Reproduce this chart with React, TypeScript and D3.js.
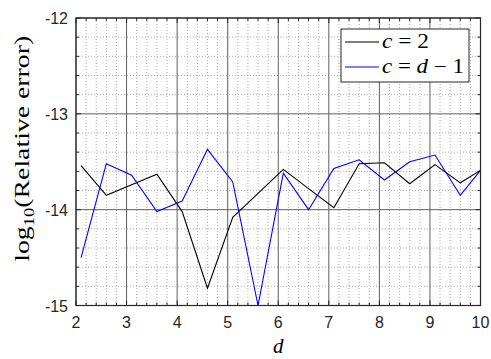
import React from 'react';
import * as d3 from 'd3';

const width = 491;
const height = 359;
const margin = { top: 18, right: 10, bottom: 54, left: 76 };

// sample positions along d
const dValues = [2.1, 2.6, 3.1, 3.6, 4.1, 4.6, 5.1, 5.6, 6.1, 6.6, 7.1, 7.6, 8.1, 8.6, 9.1, 9.6, 10];
// log10 relative error, c = 2
const errC2 = [-13.54, -13.85, -13.74, -13.63, -14.02, -14.82, -14.08, -13.83, -13.58, -13.78, -13.98, -13.52, -13.51, -13.73, -13.53, -13.72, -13.59];
// log10 relative error, c = d - 1
const errCd = [-14.5, -13.52, -13.64, -14.02, -13.91, -13.37, -13.71, -15.0, -13.62, -14.0, -13.57, -13.48, -13.69, -13.5, -13.43, -13.85, -13.59];

const xTicks = [2, 3, 4, 5, 6, 7, 8, 9, 10];
const yTicks = [-15, -14, -13, -12];

const x = d3.scaleLinear().domain([2, 10]).range([margin.left, width - margin.right - 0.5]);
const y = d3.scaleLinear().domain([-15, -12]).range([height - margin.bottom + 0.5, margin.top]);

const xMinor = d3.range(2, 10.001, 0.2).map(v => +v.toFixed(1));
const yMinor = d3.range(-15, -11.999, 0.2).map(v => +v.toFixed(1));

const line = d3.line<number>().x((d, i) => x(dValues[i])).y(d => y(d));

const sans = '"Liberation Sans", Arial, sans-serif';
const serif = '"Liberation Serif", "Times New Roman", serif';

export default function App() {
  const x0 = x.range()[0], x1 = x.range()[1];
  const y0 = y.range()[0], y1 = y.range()[1];
  return (
    <svg width={width} height={height} style={{ position: 'absolute', left: 0, top: 0, background: '#fff' }}>
      <defs>
        <clipPath id="plot">
          <rect x={x0} y={y1} width={x1 - x0} height={y0 - y1} />
        </clipPath>
      </defs>
      {/* minor grid */}
      <g stroke="#9a9a9a" strokeWidth={0.8} strokeDasharray="1,2">
        {xMinor.filter(v => !Number.isInteger(v)).map(v => (
          <line key={'xm' + v} x1={x(v)} x2={x(v)} y1={y1} y2={y0} />
        ))}
        {yMinor.filter(v => !Number.isInteger(v)).map(v => (
          <line key={'ym' + v} x1={x0} x2={x1} y1={y(v)} y2={y(v)} />
        ))}
      </g>
      {/* major grid */}
      <g stroke="#5e5e5e" strokeWidth={1}>
        {xTicks.map(v => (
          <line key={'xg' + v} x1={x(v)} x2={x(v)} y1={y1} y2={y0} />
        ))}
        {yTicks.map(v => (
          <line key={'yg' + v} x1={x0} x2={x1} y1={y(v)} y2={y(v)} />
        ))}
      </g>
      {/* ticks */}
      <g stroke="#262626" strokeWidth={1}>
        {xMinor.map(v => {
          const len = Number.isInteger(v) ? 5 : 3;
          return (
            <g key={'xt' + v}>
              <line x1={x(v)} x2={x(v)} y1={y0} y2={y0 - len} />
              <line x1={x(v)} x2={x(v)} y1={y1} y2={y1 + len} />
            </g>
          );
        })}
        {yMinor.map(v => {
          const len = Number.isInteger(v) ? 5 : 3;
          return (
            <g key={'yt' + v}>
              <line x1={x0} x2={x0 + len} y1={y(v)} y2={y(v)} />
              <line x1={x1} x2={x1 - len} y1={y(v)} y2={y(v)} />
            </g>
          );
        })}
      </g>
      {/* data */}
      <g clipPath="url(#plot)" fill="none" strokeWidth={1.1}>
        <path d={line(errC2) || ''} stroke="#000" />
        <path d={line(errCd) || ''} stroke="#0000ff" />
      </g>
      {/* frame */}
      <rect x={x0} y={y1} width={x1 - x0} height={y0 - y1} fill="none" stroke="#262626" strokeWidth={1.2} />
      {/* tick labels */}
      <g fontFamily={sans} fontSize={16} fill="#262626">
        {xTicks.map(v => (
          <text key={'xl' + v} x={x(v)} y={y0 + 22} textAnchor="middle">{v}</text>
        ))}
        {yTicks.map(v => (
          <text key={'yl' + v} x={x0 - 8} y={y(v) + 6} textAnchor="end">{v}</text>
        ))}
      </g>
      {/* axis labels */}
      <text x={(x0 + x1) / 2} y={353} fontFamily={serif} fontSize={21} fontStyle="italic" textAnchor="middle">d</text>
      <text transform={`translate(29, ${(y0 + y1) / 2 - 13}) rotate(-90)`} fontFamily={serif} fontSize={21}
        textAnchor="middle" textLength={226} lengthAdjust="spacingAndGlyphs">
        log<tspan fontSize={14} dy={5}>10</tspan><tspan dy={-5}>(Relative error)</tspan>
      </text>
      {/* legend */}
      <g>
        <rect x={341} y={29} width={128} height={53} fill="#fff" stroke="#262626" strokeWidth={1} />
        <line x1={345} x2={379} y1={42} y2={42} stroke="#000" strokeWidth={1.1} />
        <line x1={345} x2={379} y1={67} y2={67} stroke="#0000ff" strokeWidth={1.1} />
        <text x={382} y={48} fontFamily={serif} fontSize={20} textLength={47} lengthAdjust="spacingAndGlyphs">
          <tspan fontStyle="italic">c</tspan> = 2
        </text>
        <text x={382} y={73} fontFamily={serif} fontSize={20} textLength={82} lengthAdjust="spacingAndGlyphs">
          <tspan fontStyle="italic">c</tspan> = <tspan fontStyle="italic">d</tspan> − 1
        </text>
      </g>
    </svg>
  );
}
